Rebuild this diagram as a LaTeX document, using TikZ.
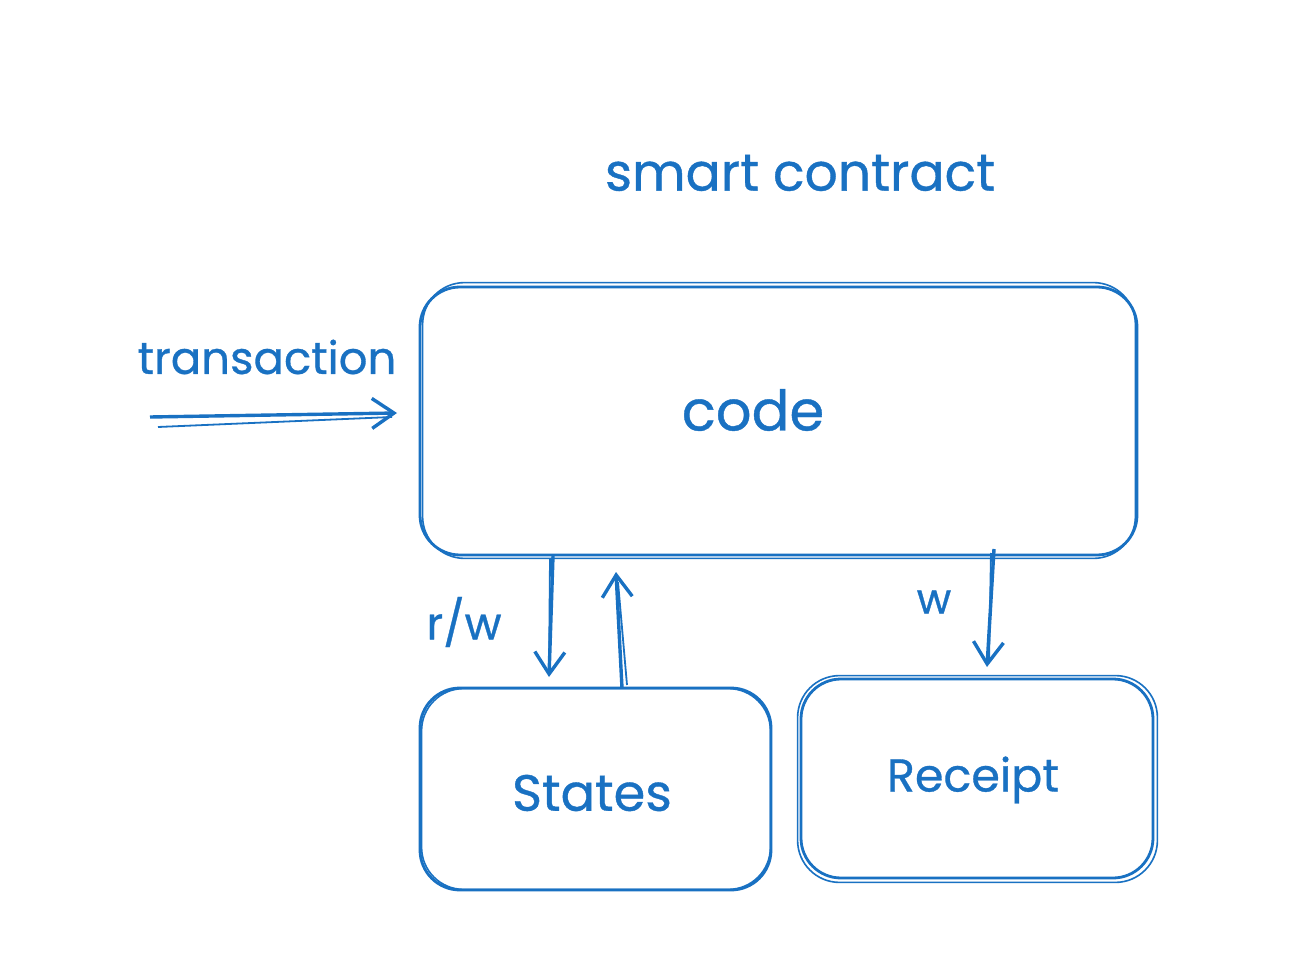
\documentclass[tikz,border=0pt]{standalone}
\usepackage{fontspec}
\setmainfont{Poppins}
\newfontfamily\handfont{Poppins}[FakeBold=0.7]
\usetikzlibrary{arrows.meta,calc}
\definecolor{exblue}{HTML}{1971C2}
\begin{document}
\begin{tikzpicture}[x=0.5pt,y=-0.5pt,
  box/.style={draw=exblue, line width=1.4pt, rounded corners=20pt, inner sep=0pt},
  sketch/.style={draw=exblue, line width=0.8pt, rounded corners=21pt},
  lbl/.style={text=exblue, inner sep=0pt, anchor=center, font=\handfont},
  arr/.style={draw=exblue, line width=1.7pt, -{Straight Barb[length=11pt,width=15pt,line width=1.7pt]}},
  arr2/.style={draw=exblue, line width=0.9pt}]
\useasboundingbox (0,0) rectangle (1308,968);
\fill[white] (0,0) rectangle (1308,968);
% boxes
\node[box, minimum width=358.5pt, minimum height=134pt] (code) at (778.5,421) {};
\node[box, minimum width=175.5pt, minimum height=101pt] (states) at (595.5,789) {};
\node[box, minimum width=176pt, minimum height=99.5pt] (receipt) at (977,778.5) {};
\draw[sketch] ($(code.north west)+(2pt,1.5pt)$) rectangle ($(code.south east)+(-1.5pt,-1pt)$);
\draw[sketch] ($(states.north west)+(1.5pt,-1pt)$) rectangle ($(states.south east)+(-1pt,1pt)$);
\draw[sketch] ($(receipt.north west)+(-1pt,1pt)$) rectangle ($(receipt.south east)+(1.5pt,-1.5pt)$);
% texts
\node[lbl] (title) at (800,173) {\fontsize{26}{30}\selectfont smart contract};
\node[lbl] (codet) at (753,410) {\fontsize{28}{32}\selectfont code};
\node[lbl] (trans) at (267,357) {\fontsize{22.5}{26}\selectfont transaction};
\node[lbl] (statest) at (592,793) {\fontsize{25.5}{30}\selectfont States};
\node[lbl] (receiptt) at (973,780) {\fontsize{23}{27}\selectfont Receipt};
\node[lbl] (rw) at (464,622) {\fontsize{22.5}{26}\selectfont r/w};
\node[lbl] (w) at (934,602) {\fontsize{21}{25}\selectfont w};
% connector end points
\coordinate (t0) at (150,417);
\coordinate (t1) at (397,413);
\coordinate (d0) at (553,556);
\coordinate (d1) at (549,677);
\coordinate (u0) at (622,688);
\coordinate (u1) at (616,572);
\coordinate (r0) at (994,549);
\coordinate (r1) at (987,667);
% arrows
\draw[arr] (t0) -- (t1);
\draw[arr2] ($(t0)+(8,10)$) -- ($(t1)+(-5,4)$);
\draw[arr] (d0) -- (d1);
\draw[arr2] ($(d0)+(-3,3)$) -- ($(d1)+(0,-6)$);
\draw[arr] (u0) -- (u1);
\draw[arr2] ($(u0)+(5,-3)$) -- ($(u1)+(2,10)$);
\draw[arr] (r0) -- (r1);
\draw[arr2] ($(r0)+(-3,4)$) -- ($(r1)+(2,-4)$);
\end{tikzpicture}
\end{document}
